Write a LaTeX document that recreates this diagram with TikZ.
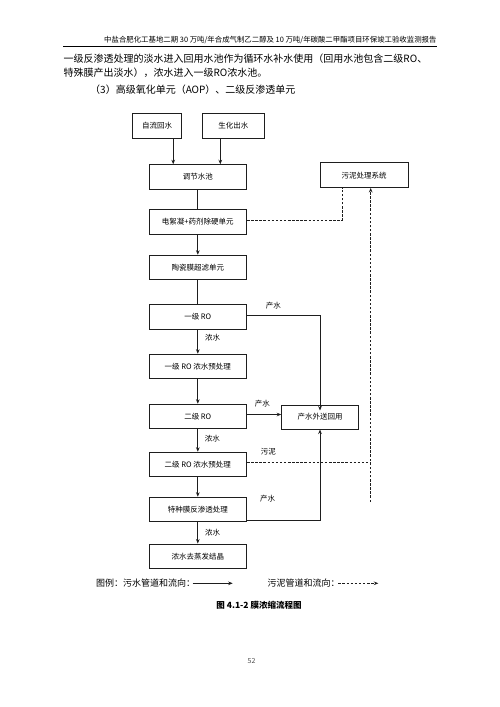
\documentclass[tikz,border=0pt]{standalone}
\usepackage{fontspec}
\setmainfont{Noto Sans CJK SC}
\usepackage{xcolor}
\usepackage{tikz}
\usetikzlibrary{arrows.meta,calc,positioning}
\definecolor{lineblack}{HTML}{1E1E1E}
\tikzset{
  procbox/.style={draw=lineblack,line width=1pt,minimum height=24.5pt,inner sep=1pt,font=\fontsize{7.5}{9}\selectfont},
  mainbox/.style={procbox,minimum width=97.5pt},
  flowline/.style={lineblack,line width=1pt},
  flowarrow/.style={-{Stealth[length=4.5pt,width=3.6pt]},lineblack,line width=1pt},
  sludgeline/.style={lineblack,line width=1pt,dash pattern=on 2.5pt off 1.6pt},
  sludgearrow/.style={sludgeline,-{Stealth[length=4.5pt,width=3.6pt]}},
  flowlabel/.style={font=\fontsize{7.5}{9}\selectfont,inner sep=1pt},
  bodytext/.style={anchor=west,inner sep=0pt,font=\fontsize{10}{12}\selectfont},
  legendtext/.style={anchor=west,inner sep=0pt,font=\fontsize{9}{11}\selectfont}
}

\begin{document}
\begin{tikzpicture}[x=1pt,y=-1pt]
\useasboundingbox (0,0) rectangle (500,707);
\node[anchor=east,inner sep=0pt,font=\fontsize{7.4}{9}\selectfont] (hdr) at (436.7,40) {中盐合肥化工基地二期 30 万吨/年合成气制乙二醇及 10 万吨/年碳酸二甲酯项目环保竣工验收监测报告};
\draw[line width=1.4pt] (63.3,46.5) -- (436.7,46.5);
\node[bodytext] (par1) at (63.3,58.3) {一级反渗透处理的淡水进入回用水池作为循环水补水使用（回用水池包含二级RO、};
\node[bodytext] (par2) at (63.3,72.7) {特殊膜产出淡水），浓水进入一级RO浓水池。};
\node[bodytext] (par3) at (90,90) {（3）高级氧化单元（AOP）、二级反渗透单元};

\node[procbox,minimum width=49pt] (zlhs) at (157.2,125.8) {自流回水};
\node[procbox,minimum width=62pt] (shcs) at (233.3,125.8) {生化出水};
\node[mainbox] (tjsc) at (197.8,177) {调节水池};
\node[mainbox] (dxn) at (197.8,222) {电絮凝+药剂除硬单元};
\node[mainbox] (tcm) at (197.8,267.5) {陶瓷膜超滤单元};
\node[mainbox] (ro1) at (197.8,317) {一级 RO};
\node[mainbox] (ro1yc) at (197.8,366.5) {一级 RO 浓水预处理};
\node[mainbox] (ro2) at (197.8,416.5) {二级 RO};
\node[mainbox] (ro2yc) at (197.8,464.5) {二级 RO 浓水预处理};
\node[mainbox] (tzm) at (197.8,509.5) {特种膜反渗透处理};
\node[mainbox] (zfjj) at (197.8,556.3) {浓水去蒸发结晶};
\node[procbox,minimum width=88pt] (wncl) at (364.2,175.2) {污泥处理系统};
\node[procbox,minimum width=76.6pt,minimum height=24pt] (csws) at (320,417) {产水外送回用};

\draw[flowarrow] ([xshift=16pt]zlhs.south) -- ([xshift=16pt]zlhs.south |- tjsc.north);
\draw[flowarrow] ([xshift=-13pt]shcs.south) -- ([xshift=-13pt]shcs.south |- tjsc.north);
\draw[flowline] (tjsc) -- (dxn);
\draw[flowarrow] (dxn) -- (tcm);
\draw[flowline] (tcm) -- (ro1);
\draw[flowarrow] (ro1) -- (ro1yc);
\draw[flowarrow] (ro1yc) -- (ro2);
\draw[flowarrow] (ro2) -- (ro2yc);
\draw[flowarrow] (ro2yc) -- (tzm);
\draw[flowarrow] (tzm) -- (zfjj);
\draw[flowarrow] ([yshift=2pt]ro1.east) -| ([yshift=-6pt]csws.north);
\draw[flowarrow] ([yshift=2pt]ro2.east) -- ([yshift=2pt]ro2.east -| csws.west);
\draw[flowarrow] ([yshift=1.8pt]tzm.south east) -| (csws.south);

\draw[sludgeline] ([yshift=2pt]dxn.east) -| ([xshift=-22pt]wncl.south);
\coordinate (wnend) at (370.7,502);
\draw[sludgeline] ([yshift=1.8pt]ro2yc.east) -- ([yshift=1.8pt]ro2yc.east -| wnend);
\draw[sludgearrow] (wnend) -- (wnend |- wncl.south);

\node[flowlabel] (cs1) at (273.3,305.7) {产水};
\node[flowlabel] (ns1) at (212.7,337.3) {浓水};
\node[flowlabel] (cs2) at (262.3,403.3) {产水};
\node[flowlabel] (ns2) at (212.3,438.3) {浓水};
\node[flowlabel] (wn) at (268.3,451.7) {污泥};
\node[flowlabel] (cs3) at (267.7,498.3) {产水};
\node[flowlabel] (ns3) at (212.7,532.3) {浓水};

\node[legendtext] (lgw) at (96,583.3) {图例：污水管道和流向：};
\coordinate (lgwa) at (192.7,583.3);
\coordinate (lgwb) at (232.7,583.3);
\draw[flowarrow] (lgwa) -- (lgwb);
\node[legendtext] (lgs) at (267.3,583.3) {污泥管道和流向：};
\coordinate (lgsa) at (338.3,583.3);
\coordinate (lgsb) at (378.3,583.3);
\draw[sludgearrow] (lgsa) -- (lgsb);

\node[font=\bfseries\fontsize{8.5}{10}\selectfont] (cap) at (259,605) {图 4.1-2 膜浓缩流程图};
\node[font=\fontsize{7}{8}\selectfont,text=black!70] (pnum) at (251.5,660.5) {52};
\end{tikzpicture}
\end{document}
